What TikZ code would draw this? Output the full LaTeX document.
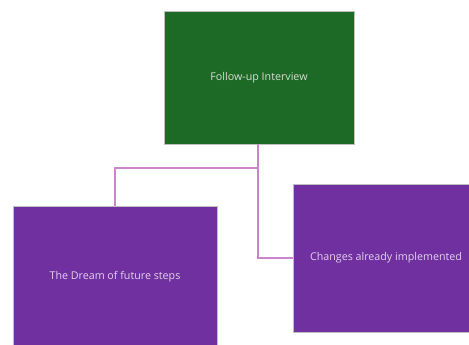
\documentclass[tikz,border=0pt]{standalone}
\usepackage{fontspec}
\setmainfont{Open Sans}
\definecolor{dgreen}{HTML}{1D6A26}
\definecolor{purp}{HTML}{7030A0}
\definecolor{conn}{HTML}{CC85CC}
\definecolor{txtg}{HTML}{D5DDD5}
\definecolor{txtp}{HTML}{E2D2EE}
\begin{document}
\begin{tikzpicture}[x=1pt,y=-1pt,
  box/.style={draw=white!75!black, line width=0.5pt, minimum width=#1, inner sep=0pt, font=\fontsize{10.7}{12}\selectfont},
  gbox/.style={box=190pt, fill=dgreen, text=txtg, minimum height=133pt},
  pbox/.style={box=#1, fill=purp, text=txtp},
  link/.style={draw=conn, line width=1.2pt}]
\useasboundingbox (0,0) rectangle (469,345);
\node[gbox] (top) at (259,77.5) {Follow-up Interview};
\node[pbox=204pt, minimum height=142pt] (left) at (115,277) {The Dream of future steps};
\node[pbox=186pt, minimum height=148pt] (right) at (386,258) {Changes already implemented};
\coordinate (j) at (258,168);
\draw[link] (top.south -| j) -- (j) -| (left.north);
\draw[link] (j) |- (right.west);
\end{tikzpicture}
\end{document}
